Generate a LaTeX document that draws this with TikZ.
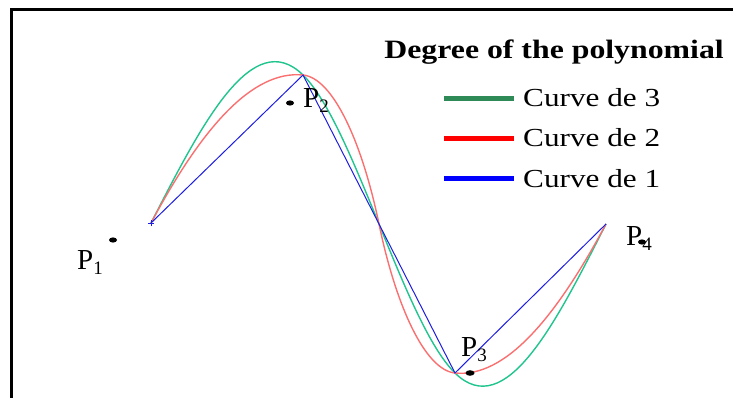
\documentclass[tikz,border=0pt]{standalone}
\usepackage{fontspec}
\setmainfont{Liberation Serif}
\newfontfamily\legfont{Liberation Serif}[FakeStretch=1.2]
\usetikzlibrary{positioning}

\definecolor{cubgreen}{RGB}{32,196,142}
\definecolor{quadred}{RGB}{250,112,112}
\definecolor{linblue}{RGB}{30,30,225}
\definecolor{keygreen}{RGB}{46,139,87}

\newcommand{\psub}[1]{\raisebox{-5pt}{\fontsize{19}{19}\selectfont #1}}

\begin{document}
\begin{tikzpicture}[
  x=1pt, y=-1pt,
  crv/.style={line width=1.4pt},
  key/.style={line width=5pt},
  plab/.style={inner sep=0pt, anchor=base west, font=\fontsize{29}{29}\selectfont},
  legtxt/.style={inner sep=0pt, anchor=base west, font=\legfont\fontsize{26}{26}\selectfont}
]
\useasboundingbox (0,0) rectangle (733,398);

% frame
\draw[line width=3pt] (11,398) -- (11,10) -- (733,10);

% data points
\coordinate (q1) at (151,223);
\coordinate (q2) at (303,75);
\coordinate (q3) at (455,373);
\coordinate (q4) at (606,224);
\coordinate (qm) at (379,224);

% degree 3
\draw[crv, cubgreen] (q1) .. controls (201.7,124.1) and (252.3,25.2) .. (q2)
  .. controls (353.7,124.8) and (404.3,323.4) .. (q3)
  .. controls (505.3,422.6) and (555.7,323.3) .. (q4);

% degree 2
\draw[crv, quadred] (q1) .. controls (201.7,128) and (252.3,70) .. (q2)
  .. controls (333,78) and (362,142) .. (qm)
  .. controls (396,306) and (425,370) .. (q3)
  .. controls (505,378) and (555,319) .. (q4);

% degree 1
\draw[line width=1pt, linblue] (q1) -- (q2) -- (q3) -- (q4);
\draw[linblue, line width=0.6pt] ([xshift=-3pt]q1) -- ([xshift=3pt]q1)
  ([yshift=-3pt]q1) -- ([yshift=3pt]q1);

% point labels
\node[plab] (lab1) at (77,269) {P\psub{1}};
\node[plab] (lab2) at (303,108) {P\psub{2}};
\node[plab] (lab3) at (461,356) {P\psub{3}};
\node[plab] (lab4) at (626,245) {P\psub{4}};
\fill (113,240) ellipse [x radius=4, y radius=2.6];
\fill (290,103) ellipse [x radius=4, y radius=2.6];
\fill (470,373) ellipse [x radius=4.5, y radius=2.8];
\fill (642,242) ellipse [x radius=4, y radius=2.6];

% legend
\node[inner sep=0pt, anchor=base east, font=\legfont\bfseries\fontsize{26.5}{26.5}\selectfont]
  (title) at (724,59) {Degree of the polynomial};
\coordinate (k3) at (444,99);
\coordinate (k2) at (444,139);
\coordinate (k1) at (444,179);
\draw[key, keygreen] (k3) -- ++(70,0);
\draw[key, red] (k2) -- ++(70,0);
\draw[key, blue] (k1) -- ++(70,0);
\node[legtxt] (t3) at (523,107) {Curve de 3};
\node[legtxt] (t2) at (523,147) {Curve de 2};
\node[legtxt] (t1) at (523,187) {Curve de 1};
\end{tikzpicture}
\end{document}
